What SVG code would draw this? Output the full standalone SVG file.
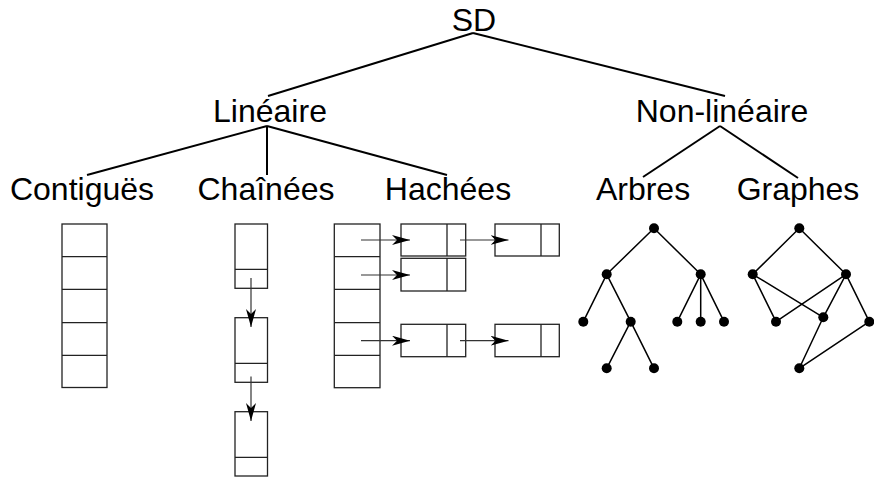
<svg xmlns="http://www.w3.org/2000/svg" width="874" height="477" viewBox="0 0 874 477">
<defs>
<marker id="ah" viewBox="0 0 18 10" refX="18" refY="5" markerWidth="18" markerHeight="10" markerUnits="userSpaceOnUse" orient="auto">
<path d="M0,0 L18,5 L0,10 L5,5 z" fill="#000"/>
</marker>
</defs>
<style>
.t{font-family:"Liberation Sans",Arial,sans-serif;font-size:32px;fill:#000;text-anchor:middle}
.e{stroke:#000;stroke-width:2;fill:none}
.b{stroke:#222;stroke-width:1.3;fill:#fff}
.d{stroke:#222;stroke-width:1.3;fill:none}
.a{stroke:#333;stroke-width:1.2;fill:none;marker-end:url(#ah)}
.g{stroke:#000;stroke-width:1.5;fill:none}
.n{fill:#000}
</style>
<rect width="874" height="477" fill="#fff"/>
<g id="connectors">
<line class="e" x1="473" y1="33" x2="268" y2="96"/>
<line class="e" x1="473" y1="33" x2="725" y2="96"/>
<line class="e" x1="267" y1="126" x2="87" y2="175"/>
<line class="e" x1="267" y1="126" x2="267" y2="175"/>
<line class="e" x1="267" y1="126" x2="447" y2="175"/>
<line class="e" x1="720" y1="126" x2="643" y2="177"/>
<line class="e" x1="720" y1="126" x2="798" y2="178"/>
</g>
<g id="node-sd"><text class="t" x="474" y="31">SD</text></g>
<g id="node-lineaire"><text class="t" x="270" y="122">Linéaire</text></g>
<g id="node-nonlineaire"><text class="t" x="722" y="122">Non-linéaire</text></g>
<g id="node-contigues"><text class="t" x="82" y="200">Contiguës</text></g>
<g id="node-chainees"><text class="t" x="266" y="200">Chaînées</text></g>
<g id="node-hachees"><text class="t" x="448" y="200">Hachées</text></g>
<g id="node-arbres"><text class="t" x="643" y="200">Arbres</text></g>
<g id="node-graphes"><text class="t" x="798" y="200">Graphes</text></g>
<g id="fig-contigues">
<rect class="b" x="62" y="224" width="45" height="163.5"/>
<path class="d" d="M62,256.7H107M62,289.3H107M62,322.7H107M62,355.3H107"/>
</g>
<g id="fig-chainees">
<rect class="b" x="235" y="224" width="32.5" height="64.3"/>
<line class="d" x1="235" y1="269.3" x2="267.5" y2="269.3"/>
<rect class="b" x="235" y="317.7" width="32.5" height="64.6"/>
<line class="d" x1="235" y1="363.3" x2="267.5" y2="363.3"/>
<rect class="b" x="235" y="411.7" width="32.5" height="64.3"/>
<line class="d" x1="235" y1="457.3" x2="267.5" y2="457.3"/>
<line class="a" x1="251" y1="278" x2="251" y2="327"/>
<line class="a" x1="251" y1="376.5" x2="251" y2="421"/>
</g>
<g id="fig-hachees">
<rect class="b" x="334.3" y="224" width="45.7" height="163.7"/>
<path class="d" d="M334.3,256.7H380M334.3,289.3H380M334.3,322.7H380M334.3,355.3H380"/>
<rect class="b" x="401" y="224" width="64.7" height="32"/>
<line class="d" x1="447" y1="224" x2="447" y2="256"/>
<rect class="b" x="495" y="224" width="64.3" height="32"/>
<line class="d" x1="541" y1="224" x2="541" y2="256"/>
<rect class="b" x="401" y="258.3" width="64.7" height="32.7"/>
<line class="d" x1="447" y1="258.3" x2="447" y2="291"/>
<rect class="b" x="401" y="324.3" width="64.7" height="32.4"/>
<line class="d" x1="447" y1="324.3" x2="447" y2="356.7"/>
<rect class="b" x="495" y="324.3" width="64.3" height="32.4"/>
<line class="d" x1="541" y1="324.3" x2="541" y2="356.7"/>
<line class="a" x1="361" y1="240" x2="410" y2="240"/>
<line class="a" x1="361" y1="275" x2="410" y2="275"/>
<line class="a" x1="361" y1="340.7" x2="410" y2="340.7"/>
<line class="a" x1="460" y1="240" x2="508.5" y2="240"/>
<line class="a" x1="460" y1="340.7" x2="508.5" y2="340.7"/>
</g>
<g id="fig-arbres">
<path class="g" d="M654,228.3L606.7,274.3M654,228.3L700.7,274.3M606.7,274.3L583.3,321.7M606.7,274.3L630.7,321.7M700.7,274.3L677.3,321.7M700.7,274.3L700.7,321.7M700.7,274.3L724,321.7M630.7,321.7L606.7,368.3M630.7,321.7L654,368.3"/>
<circle class="n" cx="654" cy="228.3" r="5"/>
<circle class="n" cx="606.7" cy="274.3" r="5"/>
<circle class="n" cx="700.7" cy="274.3" r="5"/>
<circle class="n" cx="583.3" cy="321.7" r="5"/>
<circle class="n" cx="630.7" cy="321.7" r="5"/>
<circle class="n" cx="677.3" cy="321.7" r="5"/>
<circle class="n" cx="700.7" cy="321.7" r="5"/>
<circle class="n" cx="724" cy="321.7" r="5"/>
<circle class="n" cx="606.7" cy="368.3" r="5"/>
<circle class="n" cx="654" cy="368.3" r="5"/>
</g>
<g id="fig-graphes">
<path class="g" d="M799.3,228.3L752.7,274.3M799.3,228.3L846,274.3M752.7,274.3L776,321.7M752.7,274.3L823.3,317.3M846,274.3L776,321.7M846,274.3L823.3,317.3M846,274.3L869.3,321.7M823.3,317.3L799.3,368.3M869.3,321.7L799.3,368.3"/>
<circle class="n" cx="799.3" cy="228.3" r="5"/>
<circle class="n" cx="752.7" cy="274.3" r="5"/>
<circle class="n" cx="846" cy="274.3" r="5"/>
<circle class="n" cx="776" cy="321.7" r="5"/>
<circle class="n" cx="823.3" cy="317.3" r="5"/>
<circle class="n" cx="869.3" cy="321.7" r="5"/>
<circle class="n" cx="799.3" cy="368.3" r="5"/>
</g>
</svg>
